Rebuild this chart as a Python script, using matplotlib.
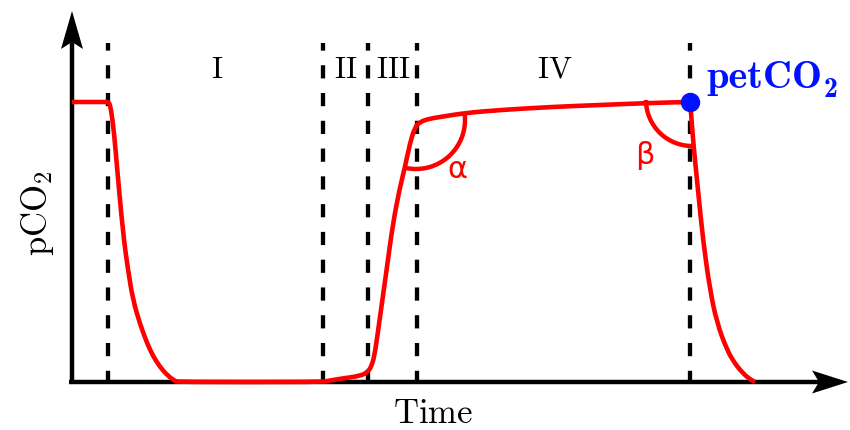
import numpy as np
import matplotlib
matplotlib.use("Agg")
import matplotlib.pyplot as plt
from matplotlib.patches import Arc, Polygon, PathPatch
from matplotlib.path import Path

plt.rcParams['mathtext.fontset'] = 'cm'
plt.rcParams['lines.scale_dashes'] = False

# schematic capnogram, time and pCO2 in arbitrary units
time = [0.0, 3.4, 3.7, 3.9, 4.2, 4.5, 5.1, 5.6, 6.1, 6.8, 7.5, 8.1, 8.8, 9.6, 10.3, 10.6,
        25.1, 25.5, 27.0, 28.8, 29.6, 30.0, 30.3, 30.8, 31.5, 32.1, 32.8, 33.3,
        33.8, 34.3, 34.8, 35.6, 36.8, 39.3, 42.8, 47.8, 52.8, 57.8, 61.5, 61.8,
        61.9, 62.1, 62.6, 63.1, 63.8, 64.5, 65.5, 66.2, 66.8, 67.6, 68.3]
pco2 = [28.0, 28.0, 28.0, 27.3, 25.0, 21.5, 14.9, 11.2, 8.2, 5.8, 3.9, 2.6, 1.5, 0.6, 0.1, 0.0,
        0.0, 0.1, 0.35, 0.6, 1.0, 1.7, 2.9, 6.5, 11.5, 15.9, 19.5, 21.5,
        23.9, 25.5, 26.0, 26.3, 26.5, 26.9, 27.2, 27.5, 27.7, 27.9, 28.0, 28.0,
        27.0, 24.2, 19.2, 14.2, 9.2, 5.9, 3.2, 2.0, 1.2, 0.4, 0.0]

phase_bounds = [3.6, 25.1, 29.6, 34.5, 61.8]
phase_labels = ['I', 'II', 'III', 'IV']
phase_label_x = [14.5, 27.4, 32.1, 48.3]

pet_time, pet_value = 61.8, 28.0
alpha_vertex = (34.4, 26.2)
beta_vertex = (62.0, 28.2)

t_max, p_max = 77.6, 37.1
RED = '#ff0000'
BLUE = '#0011ff'


def smooth_path(xs, ys):
    # quadratic B-spline through midpoints of the data points
    pts = np.column_stack([xs, ys])
    verts = [pts[0]]
    codes = [Path.MOVETO]
    for i in range(1, len(pts) - 1):
        verts += [pts[i], (pts[i] + pts[i + 1]) / 2]
        codes += [Path.CURVE3, Path.CURVE3]
    verts.append(pts[-1])
    codes.append(Path.LINETO)
    return Path(verts, codes)


fig = plt.figure(figsize=(8.5, 4.3), dpi=100)
ax = fig.add_axes([0, 0, 1, 1])
ax.set_xlim(-7.2, 77.8)
ax.set_ylim(-4.8, 38.2)
ax.axis('off')

# axes with stealth arrow heads
ax.plot([-0.35, t_max - 2.5], [0, 0], color='black', lw=3.2, solid_capstyle='butt')
ax.plot([0, 0], [0, p_max - 2.5], color='black', lw=3.2, solid_capstyle='butt')
ax.add_patch(Polygon([(t_max, 0), (t_max - 3.6, 1.15), (t_max - 2.9, 0), (t_max - 3.6, -1.15)],
                     closed=True, color='black', lw=0))
ax.add_patch(Polygon([(0, p_max), (-1.1, p_max - 3.8), (0, p_max - 3.1), (1.1, p_max - 3.8)],
                     closed=True, color='black', lw=0))

# phase boundaries
for xb in phase_bounds:
    ax.plot([xb, xb], [33.9, 0], color='black', lw=3.1, linestyle=(4, (9.5, 10.5)),
            solid_capstyle='butt', dash_capstyle='butt', zorder=2)

ax.add_patch(PathPatch(smooth_path(time, pco2), facecolor='none', edgecolor=RED,
                       lw=3.3, joinstyle='round', capstyle='butt', zorder=3))

# angles
ax.add_patch(Arc(alpha_vertex, 9.8, 9.8, theta1=-102, theta2=6, color=RED, lw=3.2, zorder=3))
ax.add_patch(Arc(beta_vertex, 9.2, 9.2, theta1=180, theta2=272, color=RED, lw=3.2, zorder=3))
ax.text(38.5, 21.2, 'α', color=RED, fontsize=22, ha='center', va='center')
ax.text(57.3, 22.6, 'β', color=RED, fontsize=22, ha='center', va='center')

ax.plot([pet_time], [pet_value], 'o', color=BLUE, markersize=13, zorder=4)
pet = ax.text(63.4, 30.4, 'petCO', family='cmb10', color=BLUE, fontsize=29,
              ha='left', va='center')
ax.annotate('2', xy=(1, 0), xycoords=pet, xytext=(1, 4), textcoords='offset points',
            family='cmb10', color=BLUE, fontsize=20, ha='left', va='center')

for lab, xl in zip(phase_labels, phase_label_x):
    ax.text(xl, 31.3, r'$\mathrm{%s}$' % lab, fontsize=22, ha='center', va='center')

ax.text(36.1, -3.1, r'$\mathrm{Time}$', fontsize=25, ha='center', va='center')
ax.text(-3.4, 16.9, r'$\mathrm{pCO}_2$', fontsize=25, ha='center', va='center', rotation=90)

fig.savefig('out.png', dpi=100)
